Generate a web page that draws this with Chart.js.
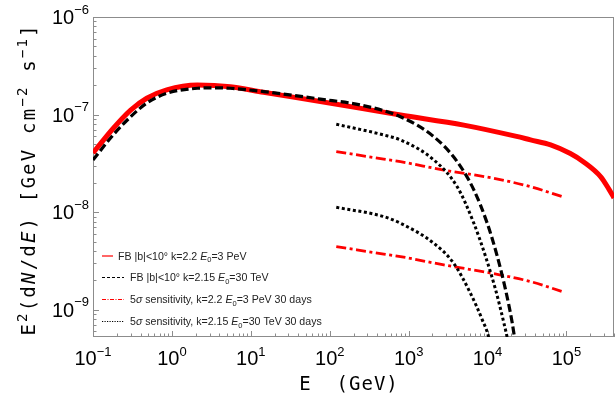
<!DOCTYPE html>
<html><head><meta charset="utf-8">
<script src="https://cdn.jsdelivr.net/npm/chart.js@4.4.1/dist/chart.umd.min.js"></script>
<style>html,body{margin:0;padding:0;background:#fff;}#wrap{width:616px;height:403px;}</style>
</head><body><div id="wrap"><canvas id="c" width="616" height="403"></canvas></div>
<script>
// ---- tick labels (exponents of 10) ----
const xTickExp = [-1, 0, 1, 2, 3, 4, 5];
const yTickExp = [-9, -8, -7, -6];

// ---- FB |b|<10°, k=2.2, E0=3 PeV (red solid) ----
const energyFB22 = [0.1, 0.18, 0.3, 0.48, 0.86, 2.1, 5.5, 14.5, 76, 790, 5000, 23300, 35000, 63000, 112000, 165000, 272000, 343000, 400000];
const fluxFB22   = [4.04e-8, 7.2e-8, 1.11e-7, 1.47e-7, 1.79e-7, 2.01e-7, 1.93e-7, 1.69e-7, 1.36e-7, 9.9e-8, 7.8e-8, 5.97e-8, 5.5e-8, 4.9e-8, 3.99e-8, 3.27e-8, 2.30e-8, 1.73e-8, 1.40e-8];

// ---- FB |b|<10°, k=2.15, E0=30 TeV (black dashed) ----
const energyFB215 = [0.1, 0.18, 0.3, 0.48, 0.86, 2.1, 3.4, 5.5, 14.5, 76, 250, 787, 2080, 4120, 6700, 9900, 13300, 16900, 20550, 23000];
const fluxFB215   = [3.43e-8, 6.18e-8, 9.5e-8, 1.31e-7, 1.65e-7, 1.86e-7, 1.88e-7, 1.86e-7, 1.72e-7, 1.44e-7, 1.25e-7, 9.5e-8, 5.94e-8, 3.29e-8, 1.69e-8, 7.69e-9, 3.5e-9, 1.6e-9, 7.3e-10, 4.0e-10];

// ---- 5σ sensitivity, k=2.2, E0=3 PeV, 30 days (red dash-dot, two curves) ----
const energySens22 = [121, 483, 787, 2790, 12000, 35200, 88700];
const fluxSens22Hi = [4.17e-8, 3.5e-8, 3.29e-8, 2.70e-8, 2.22e-8, 1.82e-8, 1.44e-8];
const fluxSens22Lo = [4.43e-9, 3.72e-9, 3.5e-9, 2.88e-9, 2.34e-9, 1.94e-9, 1.53e-9];

// ---- 5σ sensitivity, k=2.15, E0=30 TeV, 30 days (black dotted, two curves) ----
const energySens215Hi = [121, 483, 787, 2080, 4120, 6700, 9440, 12640, 16100, 17800, 20000];
const fluxSens215Hi   = [7.96e-8, 6.18e-8, 5.5e-8, 3.43e-8, 1.82e-8, 7.69e-9, 3.5e-9, 1.6e-9, 7.3e-10, 5.1e-10, 3.0e-10];
const energySens215Lo = [121, 483, 787, 2080, 3720, 6080, 8570, 10400, 12000];
const fluxSens215Lo   = [1.12e-8, 9.0e-9, 7.69e-9, 4.8e-9, 2.99e-9, 1.47e-9, 7.87e-10, 5.1e-10, 2.6e-10];

const legendLabels = [
  "FB |b|<10° k=2.2 E0=3 PeV",
  "FB |b|<10° k=2.15 E0=30 TeV",
  "5σ sensitivity, k=2.2 E0=3 PeV 30 days",
  "5σ sensitivity, k=2.15 E0=30 TeV 30 days"
];

function pts(xs, ys){ return xs.map((v,i)=>({x:v, y:ys[i]})); }

const RED = '#ff0000', BLACK = '#000000';
const common = {fill:false, pointRadius:0, cubicInterpolationMode:'monotone', borderCapStyle:'butt'};

const datasets = [
  Object.assign({label:legendLabels[1], data:pts(energyFB215, fluxFB215), borderColor:BLACK, borderWidth:3.2, borderDash:[8,3.5]}, common),
  Object.assign({label:legendLabels[3]+' a', data:pts(energySens215Hi, fluxSens215Hi), borderColor:BLACK, borderWidth:3, borderDash:[3,2.6]}, common),
  Object.assign({label:legendLabels[3]+' b', data:pts(energySens215Lo, fluxSens215Lo), borderColor:BLACK, borderWidth:3, borderDash:[3,2.6]}, common),
  Object.assign({label:legendLabels[2]+' a', data:pts(energySens22, fluxSens22Hi), borderColor:RED, borderWidth:2.8, borderDash:[10,3.5,3,3.5]}, common),
  Object.assign({label:legendLabels[2]+' b', data:pts(energySens22, fluxSens22Lo), borderColor:RED, borderWidth:2.8, borderDash:[10,3.5,3,3.5]}, common),
  Object.assign({label:legendLabels[0], data:pts(energyFB22, fluxFB22), borderColor:RED, borderWidth:5}, common)
];

const SANS = '"Liberation Sans", Arial, Helvetica, sans-serif';
const MONO = '"DejaVu Sans Mono", monospace';

// draw text pieces; optional per-character spacing p.ls
function drawPieces(ctx, pieces, x, y, doDraw){
  let cx = x;
  for (const p of pieces){
    ctx.font = p.f;
    const ls = p.ls || 0;
    if (ls){
      for (const ch of p.t){
        if (doDraw !== false) ctx.fillText(ch, cx, y + (p.dy||0));
        cx += ctx.measureText(ch).width + ls;
      }
    } else {
      if (doDraw !== false) ctx.fillText(p.t, cx, y + (p.dy||0));
      cx += ctx.measureText(p.t).width;
    }
    cx += (p.sp||0);
  }
  return cx - x;
}
function piecesWidth(ctx, pieces){ return drawPieces(ctx, pieces, 0, 0, false); }

const frameTicks = {
  id:'frameTicks',
  beforeDatasetsDraw(chart){
    const {ctx, chartArea:a, scales:{x, y}} = chart;
    ctx.save();
    ctx.strokeStyle = '#8c8c8c'; ctx.lineWidth = 1;
    ctx.strokeRect(a.left+0.5, a.top+0.5, a.right-a.left-1, a.bottom-a.top-1);
    ctx.beginPath();
    for (let e=-1; e<=5; e++) for (let m=1; m<=9; m++){
      const v = m*Math.pow(10,e);
      if (v < x.min*0.999 || v > x.max*1.001) continue;
      const px = Math.round(x.getPixelForValue(v)) + 0.5;
      const L = m===1 ? 6 : 3.5;
      ctx.moveTo(px, a.bottom); ctx.lineTo(px, a.bottom - L);
    }
    for (let e=-10; e<=-6; e++) for (let m=1; m<=9; m++){
      const v = m*Math.pow(10,e);
      if (v < y.min*0.999 || v > y.max*1.001) continue;
      const py = Math.round(y.getPixelForValue(v)) + 0.5;
      const L = m===1 ? 6 : 3.5;
      ctx.moveTo(a.left, py); ctx.lineTo(a.left + L, py);
    }
    ctx.stroke();
    ctx.restore();
  },
  afterDraw(chart){
    const {ctx, chartArea:a, scales:{x, y}} = chart;
    ctx.save();
    ctx.fillStyle = '#000';
    ctx.textBaseline = 'alphabetic'; ctx.textAlign = 'left';
    // x tick labels
    for (const e of xTickExp){
      const p = [{t:'10', f:'20px '+SANS}, {t:(e<0?'\u2212':'')+Math.abs(e), f:'13px '+SANS, dy:-9.5}];
      const w = piecesWidth(ctx, p);
      drawPieces(ctx, p, x.getPixelForValue(Math.pow(10,e)) - w/2, 365);
    }
    // y tick labels
    for (const e of yTickExp){
      const p = [{t:'10', f:'20px '+SANS}, {t:(e<0?'\u2212':'')+Math.abs(e), f:'13px '+SANS, dy:-10.5}];
      const w = piecesWidth(ctx, p);
      drawPieces(ctx, p, 89 - w, y.getPixelForValue(Math.pow(10,e)) + 7);
    }
    // x title
    const xt = [{t:'E  (GeV)', f:'19px '+MONO, ls:1}];
    const xw = piecesWidth(ctx, xt);
    drawPieces(ctx, xt, 349 - xw/2, 390);
    // y title (rotated)
    ctx.save();
    ctx.translate(35, 180.5);
    ctx.rotate(-Math.PI/2);
    const LS = 2.2;
    const F = '19px '+MONO, FI = 'italic 19px '+MONO, FS = '14px '+MONO;
    const yt = [
      {t:'E', f:F, ls:LS}, {t:'2', f:FS, dy:-8, ls:LS}, {t:'(d', f:F, ls:LS}, {t:'N', f:FI, ls:LS}, {t:'/d', f:F, ls:LS}, {t:'E', f:FI, ls:LS}, {t:')', f:F, ls:LS},
      {t:' [GeV cm', f:F, ls:LS}, {t:'\u22122', f:FS, dy:-8, ls:LS}, {t:' s', f:F, ls:LS}, {t:'\u22121', f:FS, dy:-8, ls:LS}, {t:']', f:F}
    ];
    const yw = piecesWidth(ctx, yt);
    drawPieces(ctx, yt, -yw/2, 0);
    ctx.restore();
    // legend
    const rows = [255.5, 277, 299, 321];
    const styles = [
      {c:RED, d:[], x0:102, x1:113, tx:118},
      {c:BLACK, d:[3,2], x0:102, x1:124, tx:130},
      {c:RED, d:[4,1.5,1,1.5], x0:102, x1:124, tx:130},
      {c:BLACK, d:[1.2,1.3], x0:102, x1:124, tx:130}
    ];
    const LF = '10.6px '+SANS, LI = 'italic 10.6px '+SANS, LSUB = '7.5px '+SANS;
    function richLabel(s){
      const out = [];
      const parts = s.split(/(E0|σ)/);
      for (const part of parts){
        if (!part) continue;
        if (part === 'E0'){ out.push({t:'E', f:LI}); out.push({t:'0', f:LSUB, dy:2.5}); }
        else if (part === 'σ'){ out.push({t:'σ', f:LI}); }
        else out.push({t:part, f:LF});
      }
      return out;
    }
    legendLabels.forEach((lab, i)=>{
      const s = styles[i], yy = rows[i];
      ctx.beginPath(); ctx.setLineDash(s.d); ctx.strokeStyle = s.c; ctx.lineWidth = 1.2;
      ctx.moveTo(s.x0, yy+0.5); ctx.lineTo(s.x1, yy+0.5); ctx.stroke();
      ctx.setLineDash([]);
      ctx.fillStyle = '#222';
      drawPieces(ctx, richLabel(lab), s.tx, yy + 4);
    });
    ctx.restore();
  }
};

new Chart(document.getElementById('c'), {
  type:'line',
  data:{datasets},
  options:{
    responsive:false, animation:false, devicePixelRatio:1,
    layout:{padding:{left:93, right:2, top:17, bottom:66}},
    plugins:{legend:{display:false}, tooltip:{enabled:false}},
    scales:{
      x:{type:'logarithmic', min:0.1, max:4e5, display:false},
      y:{type:'logarithmic', min:5.25e-10, max:1e-6, display:false}
    }
  },
  plugins:[frameTicks]
});
</script>
</body></html>
